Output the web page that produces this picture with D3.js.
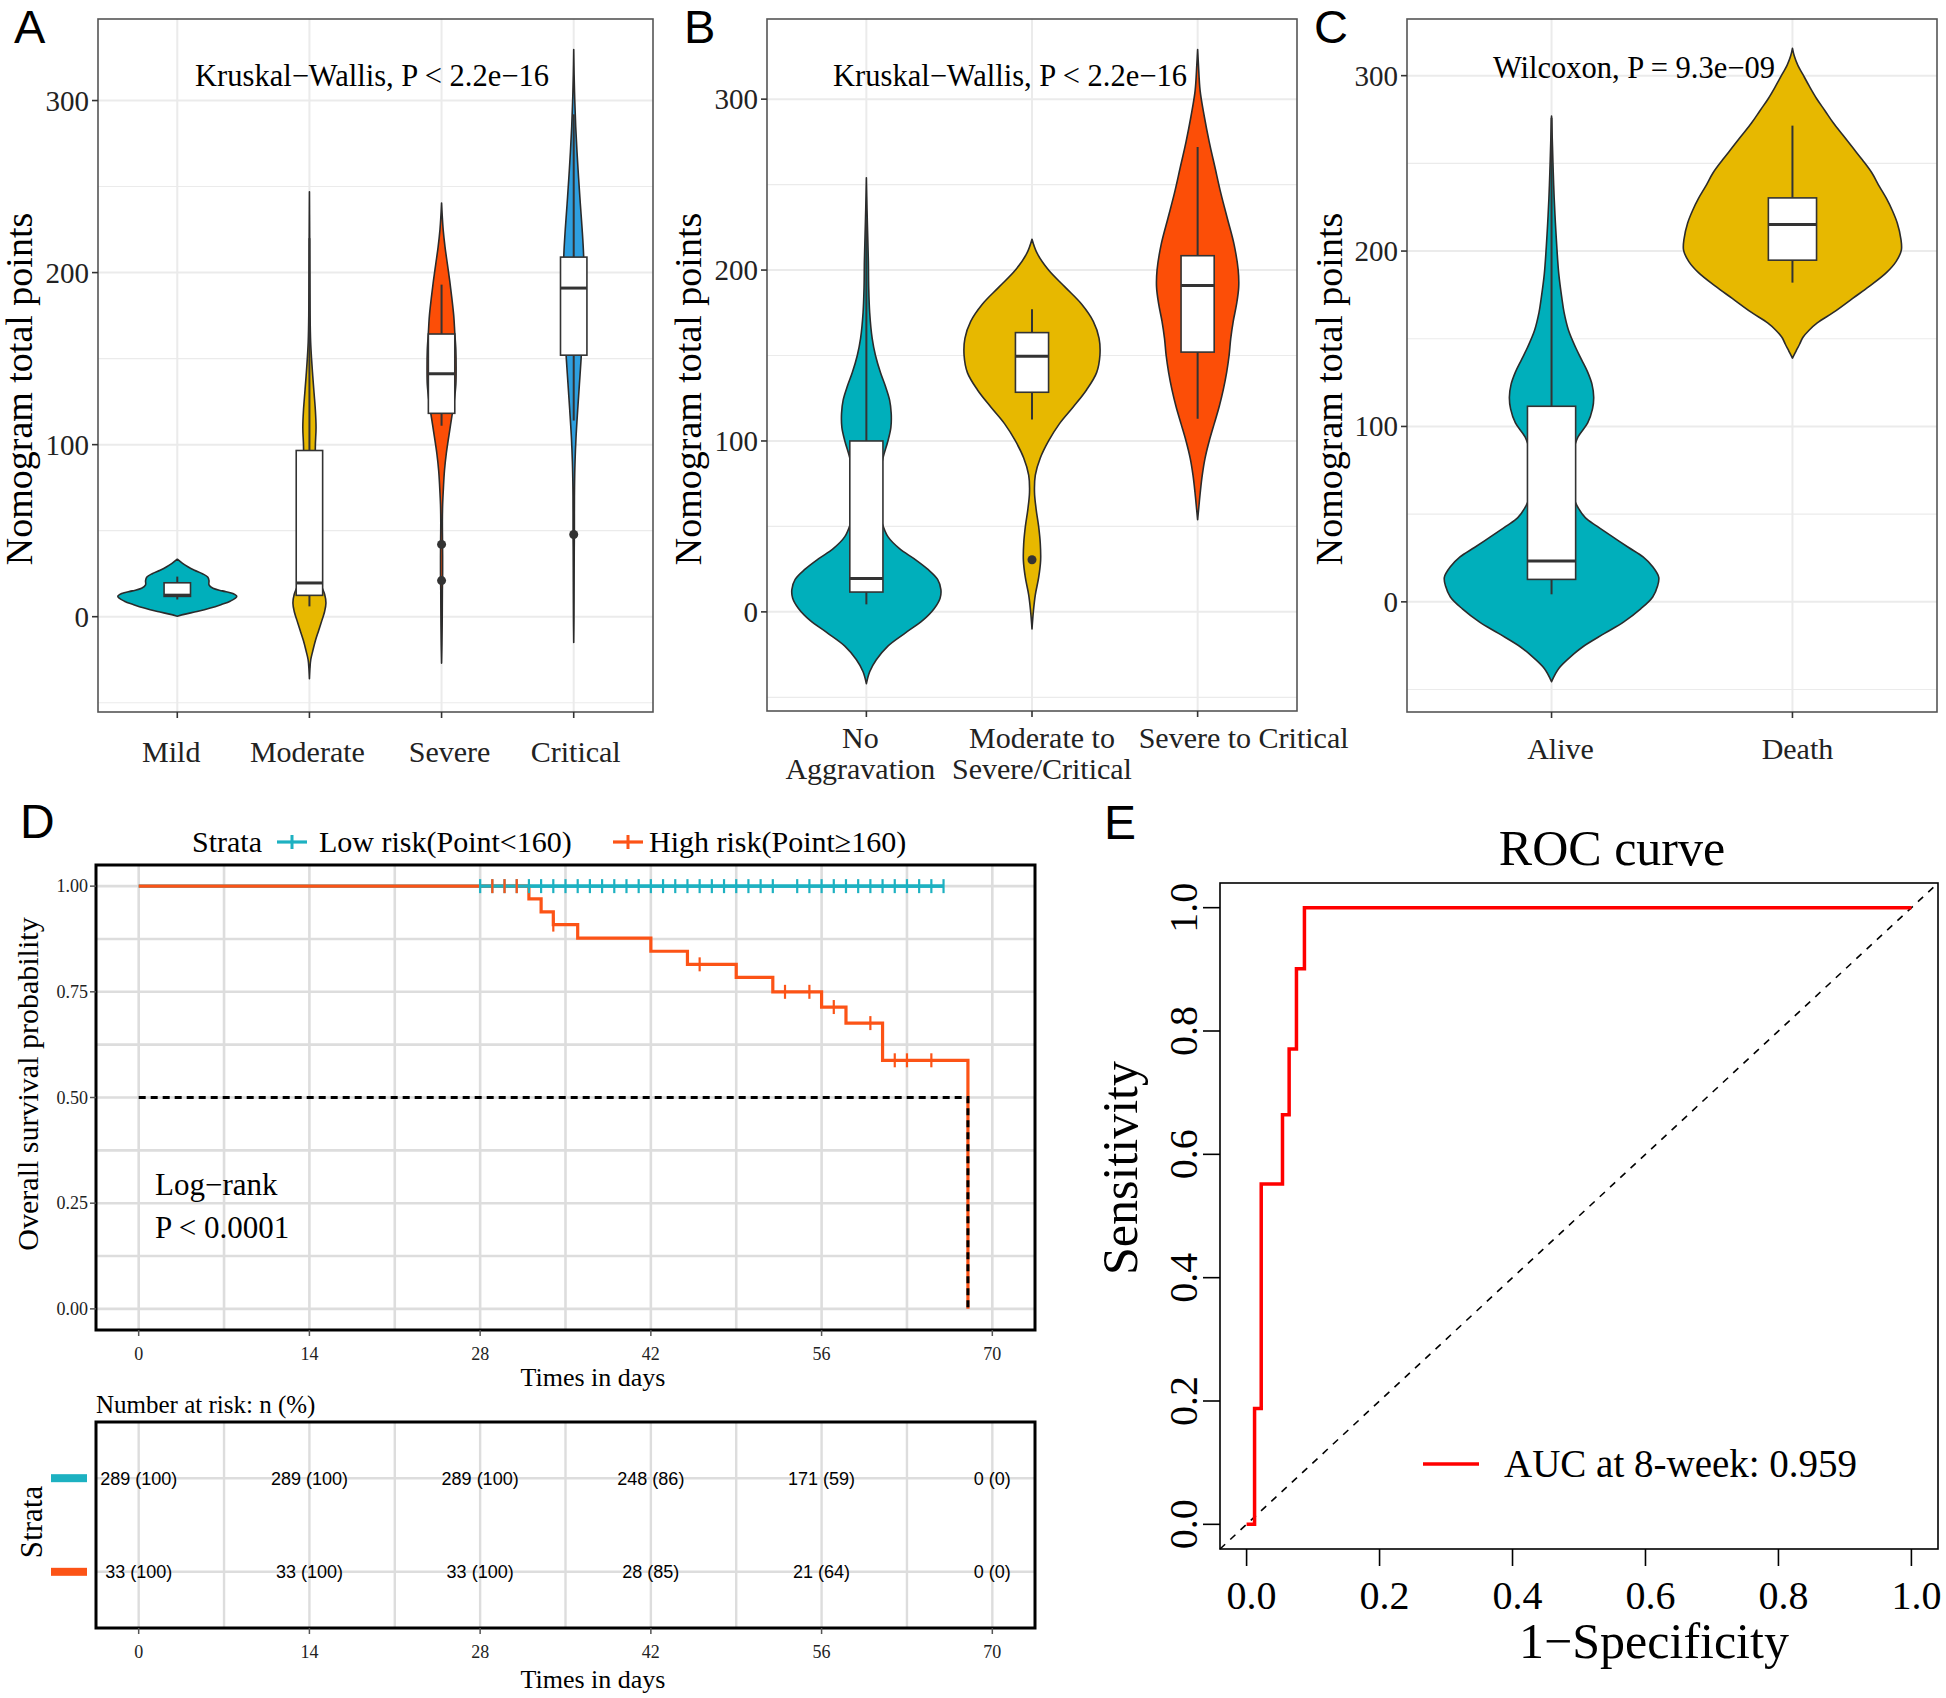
<!DOCTYPE html>
<html><head><meta charset="utf-8">
<script src="https://cdn.jsdelivr.net/npm/d3@7"></script>
<style>body{margin:0;background:#fff}</style>
</head><body>
<script>
// ---------------- DATA ----------------
// Panel A
const sevCategories = ["Mild","Moderate","Severe","Critical"];
const sevColors = ["#00AFBB","#E7B800","#FC4E07","#2E9FDF"];
// violin outline: [value, half-width in category units]
const mildViolin = [[0.3,0],[1.5,0.06],[3,0.15],[5,0.25],[7,0.33],[9,0.4],[11.8,0.45],[13.5,0.42],[15,0.34],[16.5,0.27],[18.5,0.24],[21,0.24],[23,0.23],[25,0.19],[27,0.13],[29,0.08],[31,0.04],[33.4,0]];
const moderateViolin = [[-36,0],[-30,0.004],[-25,0.01],[-20,0.025],[-14,0.045],[-8,0.07],[-2,0.095],[3,0.115],[8,0.125],[13,0.115],[18,0.09],[24,0.065],[32,0.045],[45,0.035],[60,0.032],[75,0.036],[88,0.042],[100,0.045],[110,0.05],[120,0.045],[130,0.035],[140,0.025],[150,0.016],[160,0.009],[175,0.005],[200,0.003],[225,0.0015],[247,0]];
const severeViolin = [[-27,0],[-15,0.003],[0,0.005],[15,0.006],[25,0.008],[35,0.008],[45,0.007],[55,0.006],[65,0.008],[75,0.014],[85,0.022],[95,0.036],[105,0.055],[115,0.075],[125,0.095],[135,0.108],[145,0.11],[155,0.108],[165,0.1],[175,0.092],[185,0.078],[195,0.062],[205,0.044],[215,0.026],[225,0.012],[233,0.005],[240.4,0]];
const criticalViolin = [[-15,0],[0,0.002],[20,0.003],[40,0.004],[48,0.005],[60,0.005],[75,0.006],[90,0.01],[105,0.018],[120,0.03],[135,0.043],[150,0.056],[165,0.066],[180,0.074],[195,0.078],[210,0.075],[225,0.064],[240,0.05],[255,0.037],[270,0.025],[285,0.015],[300,0.008],[315,0.003],[329.6,0]];
// boxes: [whiskerLow, q1, median, q3, whiskerHigh]
const sevBoxes = [[10,11.8,12.5,19.7,23.3],[6,12.4,19.6,96.6,220],[111,118.2,141.2,164.3,193],[114,152,191,209,292]];
const sevOutliers = [[],[],[42,21],[47.8]];

// Panel B
const aggCategories = ["No Aggravation","Moderate to Severe/Critical","Severe to Critical"];
const aggLabelLines = [["No","Aggravation"],["Moderate to","Severe/Critical"],["Severe to Critical"]];
const aggColors = ["#00AFBB","#E7B800","#FC4E07"];
const noAggViolin = [[-42,0],[-35,0.02],[-28,0.06],[-20,0.13],[-12,0.24],[-5,0.34],[2,0.41],[8,0.445],[13,0.45],[19,0.43],[25,0.37],[31,0.29],[37,0.2],[44,0.13],[52,0.095],[60,0.075],[70,0.07],[80,0.08],[90,0.1],[100,0.13],[108,0.148],[116,0.15],[124,0.14],[132,0.115],[140,0.085],[150,0.055],[160,0.035],[175,0.02],[190,0.014],[205,0.012],[220,0.008],[235,0.004],[254,0]];
const modSevViolin = [[-10,0],[0,0.008],[10,0.02],[20,0.04],[30,0.052],[40,0.05],[50,0.04],[60,0.025],[70,0.015],[80,0.02],[90,0.05],[100,0.1],[110,0.165],[120,0.25],[130,0.33],[140,0.39],[150,0.41],[160,0.405],[170,0.37],[180,0.3],[190,0.2],[200,0.1],[210,0.03],[218,0]];
const sevCritViolin = [[54,0],[60,0.006],[70,0.016],[80,0.028],[90,0.045],[100,0.07],[110,0.1],[120,0.13],[130,0.155],[140,0.175],[150,0.19],[160,0.2],[170,0.215],[180,0.235],[190,0.248],[200,0.245],[215,0.22],[230,0.18],[245,0.14],[260,0.105],[275,0.07],[290,0.04],[305,0.015],[320,0.005],[329,0]];
const aggBoxes = [[4.4,11.6,19.6,100,230],[112.6,128.5,149.6,163.4,177],[113,152,191,208.4,272]];
const aggOutliers = [[],[30.5],[]];

// Panel C
const outcomeCategories = ["Alive","Death"];
const outcomeColors = ["#00AFBB","#E7B800"];
const aliveViolin = [[-45.5,0],[-38,0.03],[-30,0.09],[-25.6,0.13],[-18,0.22],[-11.4,0.3],[-4,0.37],[2.8,0.42],[9,0.44],[14,0.445],[20,0.42],[25.6,0.38],[31,0.32],[37,0.254],[43,0.19],[48,0.14],[55,0.105],[62,0.085],[70,0.078],[78,0.08],[86,0.09],[94,0.11],[102,0.15],[110,0.17],[116.6,0.175],[124,0.168],[131,0.15],[138,0.125],[145,0.1],[155,0.07],[165,0.052],[173,0.043],[187,0.03],[202,0.022],[216,0.016],[230,0.011],[245,0.007],[259,0.004],[277,0]];
const deathViolin = [[139,0],[143,0.015],[147,0.03],[150.7,0.043],[155,0.07],[159,0.103],[165,0.17],[173,0.25],[180,0.32],[187.7,0.39],[194,0.43],[200.5,0.452],[207,0.45],[216,0.435],[223,0.415],[230,0.39],[237,0.36],[244.5,0.33],[252,0.29],[259,0.25],[266,0.21],[273,0.17],[280,0.135],[287,0.1],[294,0.07],[301,0.042],[306,0.022],[311,0.008],[315.6,0]];
const outcomeBoxes = [[4.3,12.8,23.3,111.5,276],[182,194.8,215.2,230.3,271.5]];
const outcomeOutliers = [[],[]];

const violinYTicks = [0,100,200,300];
const violinMinorTicks = [-50,50,150,250];

// Panel D (Kaplan-Meier)
const kmStrata = ["Low risk(Point<160)","High risk(Point\u2265160)"];
const kmColors = ["#1DB1C1","#FC5316"];
const lowRiskTimes = [0,66];
const lowRiskSurv = [1,1];
const highRiskTimes = [0,32,33,34,36,42,45,49,52,56,58,61,68];
const highRiskSurv = [1,0.970,0.939,0.909,0.877,0.846,0.815,0.784,0.750,0.714,0.676,0.588,0];
const lowRiskCensor = [28,29,30,31,32,33,34,35,36,37,38,39,40,41,42,43,44,45,46,47,48,49,50,51,52,54,55,56,57,58,59,60,61,62,63,64,65,66];
const highRiskCensor = [29,30,31,34,46,53,55,57,60,62,63,65];
const medianSurvival = 68;
const kmTimeTicks = [0,14,28,42,56,70];
const kmSurvTicks = [0,0.25,0.5,0.75,1];
const riskTimes = [0,14,28,42,56,70];
const lowRiskN = [289,289,289,248,171,0];
const lowRiskPct = [100,100,100,86,59,0];
const highRiskN = [33,33,33,28,21,0];
const highRiskPct = [100,100,100,85,64,0];

// Panel E (ROC)
const rocFPR = [0,0.012,0.022,0.054,0.064,0.075,0.087,1.0];
const rocTPR = [0,0.188,0.552,0.664,0.771,0.901,1.0,1.0];
const rocTicks = [0,0.2,0.4,0.6,0.8,1.0];
const aucLabel = "AUC at 8-week: 0.959";

// ---------------- DRAW ----------------
const SERIF = "'Liberation Serif','Times New Roman',serif";
const SANS = "'Liberation Sans',Arial,sans-serif";
const svg = d3.select("body").append("svg").attr("width",1946).attr("height",1698)
  .style("font-family", SERIF);

function text(g, x, y, s, size, opt={}) {
  const t = g.append("text").attr("x",x).attr("y",y).text(s)
    .attr("font-size",size).attr("fill",opt.fill||"#000")
    .attr("text-anchor",opt.anchor||"start")
    .attr("font-family",opt.family||SERIF);
  if (opt.rotate) t.attr("transform",`rotate(${opt.rotate},${x},${y})`);
  return t;
}

function violinPanel(p) {
  const g = svg.append("g");
  const x = d3.scalePoint().domain(p.cats).range([p.x0,p.x1]).padding(0.6);
  const y = d3.scaleLinear().domain(p.domain).range([p.y1,p.y0]);
  const unit = x.step();
  // grid
  violinMinorTicks.forEach(v => g.append("line").attr("x1",p.x0).attr("x2",p.x1)
    .attr("y1",y(v)).attr("y2",y(v)).attr("stroke","#ebebeb").attr("stroke-width",1.1));
  violinYTicks.forEach(v => g.append("line").attr("x1",p.x0).attr("x2",p.x1)
    .attr("y1",y(v)).attr("y2",y(v)).attr("stroke","#ebebeb").attr("stroke-width",2));
  p.cats.forEach(c => g.append("line").attr("x1",x(c)).attr("x2",x(c))
    .attr("y1",p.y0).attr("y2",p.y1).attr("stroke","#ebebeb").attr("stroke-width",2));
  // violins
  p.violins.forEach((v,i) => {
    const cx = x(p.cats[i]);
    const area = d3.area().curve(d3.curveCatmullRom.alpha(0.5))
      .y(d => y(d[0])).x0(d => cx - d[1]*unit).x1(d => cx + d[1]*unit);
    g.append("path").attr("d",area(v)).attr("fill",p.colors[i])
      .attr("stroke","#2b2b2b").attr("stroke-width",1.6).attr("stroke-linejoin","round");
  });
  // boxes
  p.boxes.forEach((b,i) => {
    const cx = x(p.cats[i]); const hw = 0.1*unit;
    g.append("line").attr("x1",cx).attr("x2",cx).attr("y1",y(b[0])).attr("y2",y(b[1]))
      .attr("stroke","#333").attr("stroke-width",2);
    g.append("line").attr("x1",cx).attr("x2",cx).attr("y1",y(b[3])).attr("y2",y(b[4]))
      .attr("stroke","#333").attr("stroke-width",2);
    g.append("rect").attr("x",cx-hw).attr("width",2*hw).attr("y",y(b[3])).attr("height",y(b[1])-y(b[3]))
      .attr("fill","#fff").attr("stroke","#333").attr("stroke-width",1.6);
    g.append("line").attr("x1",cx-hw).attr("x2",cx+hw).attr("y1",y(b[2])).attr("y2",y(b[2]))
      .attr("stroke","#333").attr("stroke-width",3);
    p.outliers[i].forEach(o => g.append("circle").attr("cx",cx).attr("cy",y(o)).attr("r",4.5).attr("fill","#333"));
  });
  // border
  g.append("rect").attr("x",p.x0).attr("y",p.y0).attr("width",p.x1-p.x0).attr("height",p.y1-p.y0)
    .attr("fill","none").attr("stroke","#555").attr("stroke-width",1.6);
  // y axis
  violinYTicks.forEach(v => {
    g.append("line").attr("x1",p.x0-6).attr("x2",p.x0).attr("y1",y(v)).attr("y2",y(v)).attr("stroke","#333").attr("stroke-width",1.6);
    text(g, p.x0-9, y(v)+10, String(v), 29, {anchor:"end", fill:"#222"});
  });
  // x axis
  p.cats.forEach((c,i) => {
    g.append("line").attr("x1",x(c)).attr("x2",x(c)).attr("y1",p.y1).attr("y2",p.y1+6).attr("stroke","#333").attr("stroke-width",1.6);
    p.labels[i].forEach((ln,j) => text(g, x(c)+p.labelDx[i], p.labelY + j*31, ln, 30, {anchor:"middle", fill:"#222"}));
  });
  // titles
  text(g, p.titleX, 389, "Nomogram total points", 38, {anchor:"middle", rotate:-90});
  text(g, p.annX, p.annY, p.annotation, 30.5, {anchor:"middle"});
  text(g, p.tagX, 43, p.tag, 47, {family:SANS});
}

violinPanel({x0:98,x1:653,y0:19,y1:712,domain:[-55.4,347.4],cats:sevCategories,
  labels:sevCategories.map(d=>[d]),labelDx:[-6,-2,8,2],labelY:762,colors:sevColors,
  violins:[mildViolin,moderateViolin,severeViolin,criticalViolin],boxes:sevBoxes,outliers:sevOutliers,
  annotation:"Kruskal\u2212Wallis, P < 2.2e\u221216",annX:372,annY:86,titleX:32,tag:"A",tagX:14});
violinPanel({x0:767,x1:1297,y0:19,y1:711,domain:[-58,346.9],cats:aggCategories,
  labels:aggLabelLines,labelDx:[-6,10,46],labelY:748,colors:aggColors,
  violins:[noAggViolin,modSevViolin,sevCritViolin],boxes:aggBoxes,outliers:aggOutliers,
  annotation:"Kruskal\u2212Wallis, P < 2.2e\u221216",annX:1010,annY:86,titleX:701,tag:"B",tagX:684});
violinPanel({x0:1407,x1:1937,y0:19,y1:712,domain:[-62.8,332.3],cats:outcomeCategories,
  labels:outcomeCategories.map(d=>[d]),labelDx:[9,5],labelY:759,colors:outcomeColors,
  violins:[aliveViolin,deathViolin],boxes:outcomeBoxes,outliers:outcomeOutliers,
  annotation:"Wilcoxon, P = 9.3e\u221209",annX:1634,annY:78,titleX:1342,tag:"C",tagX:1314});

// ---------- Panel D ----------
(function(){
  const g = svg.append("g");
  const x = d3.scaleLinear().domain([-3.5,73.5]).range([96,1035]);
  const y = d3.scaleLinear().domain([-0.05,1.05]).range([1330,865]);
  const grid = "#dddddd";
  for (let t=0; t<=70; t+=7) g.append("line").attr("x1",x(t)).attr("x2",x(t)).attr("y1",865).attr("y2",1330).attr("stroke",grid).attr("stroke-width",2.6);
  for (let s=0; s<=1.0001; s+=0.125) g.append("line").attr("x1",96).attr("x2",1035).attr("y1",y(s)).attr("y2",y(s)).attr("stroke",grid).attr("stroke-width",2.6);

  const line = d3.line().curve(d3.curveStepAfter).x(d=>x(d[0])).y(d=>y(d[1]));
  const lowPts = lowRiskTimes.map((t,i)=>[t,lowRiskSurv[i]]);
  const highPts = highRiskTimes.map((t,i)=>[t,highRiskSurv[i]]);
  g.append("path").attr("d",line(lowPts)).attr("fill","none").attr("stroke",kmColors[0]).attr("stroke-width",3.2);
  g.append("path").attr("d",line(highPts)).attr("fill","none").attr("stroke",kmColors[1]).attr("stroke-width",3.2);
  // teal over orange from first censoring onward
  const c0 = d3.min(lowRiskCensor), c1 = d3.max(lowRiskCensor);
  g.append("path").attr("d",line([[c0,1],[c1,1]])).attr("fill","none").attr("stroke",kmColors[0]).attr("stroke-width",3.2);
  const survAt = (times,surv,t) => surv[d3.bisectRight(times,t)-1];
  lowRiskCensor.forEach(t => g.append("line").attr("x1",x(t)).attr("x2",x(t))
    .attr("y1",y(survAt(lowRiskTimes,lowRiskSurv,t))-7).attr("y2",y(survAt(lowRiskTimes,lowRiskSurv,t))+7)
    .attr("stroke",kmColors[0]).attr("stroke-width",2.2));
  highRiskCensor.forEach(t => g.append("line").attr("x1",x(t)).attr("x2",x(t))
    .attr("y1",y(survAt(highRiskTimes,highRiskSurv,t))-7).attr("y2",y(survAt(highRiskTimes,highRiskSurv,t))+7)
    .attr("stroke",kmColors[1]).attr("stroke-width",2.2));
  // median line
  g.append("path").attr("d",d3.line().x(d=>x(d[0])).y(d=>y(d[1]))([[0,0.5],[medianSurvival,0.5],[medianSurvival,0]]))
    .attr("fill","none").attr("stroke","#000").attr("stroke-width",3).attr("stroke-dasharray","7,5");
  g.append("rect").attr("x",96).attr("y",865).attr("width",939).attr("height",465)
    .attr("fill","none").attr("stroke","#000").attr("stroke-width",3);
  // axes
  kmSurvTicks.forEach(s => {
    g.append("line").attr("x1",90).attr("x2",96).attr("y1",y(s)).attr("y2",y(s)).attr("stroke","#555").attr("stroke-width",1.5);
    text(g, 88, y(s)+6, s.toFixed(2), 18, {anchor:"end", fill:"#222"});
  });
  kmTimeTicks.forEach(t => {
    g.append("line").attr("x1",x(t)).attr("x2",x(t)).attr("y1",1330).attr("y2",1336).attr("stroke","#555").attr("stroke-width",1.5);
    text(g, x(t), 1360, String(t), 18, {anchor:"middle", fill:"#222"});
  });
  text(g, 593, 1386, "Times in days", 26, {anchor:"middle"});
  text(g, 38, 1084, "Overall survival probability", 30, {anchor:"middle", rotate:-90});
  text(g, 155, 1195, "Log\u2212rank", 31);
  text(g, 155, 1238, "P < 0.0001", 31);
  // legend
  text(g, 192, 852, "Strata", 30);
  const leg = [[277,319],[613,649]];
  kmStrata.forEach((s,i) => {
    const [lx,tx] = leg[i];
    g.append("line").attr("x1",lx).attr("x2",lx+30).attr("y1",842).attr("y2",842).attr("stroke",kmColors[i]).attr("stroke-width",3.2);
    g.append("line").attr("x1",lx+15).attr("x2",lx+15).attr("y1",835).attr("y2",849).attr("stroke",kmColors[i]).attr("stroke-width",3);
    text(g, tx, 852, s, 30);
  });
  text(g, 20, 838, "D", 48, {family:SANS});

  // risk table
  const ry = d3.scalePoint().domain(["high","low"]).range([1628,1422]).padding(0.6);
  for (let t=0; t<=70; t+=7) g.append("line").attr("x1",x(t)).attr("x2",x(t)).attr("y1",1422).attr("y2",1628).attr("stroke",grid).attr("stroke-width",2.4);
  ["low","high"].forEach(r => g.append("line").attr("x1",96).attr("x2",1035).attr("y1",ry(r)).attr("y2",ry(r)).attr("stroke",grid).attr("stroke-width",2.4));
  const rows = [["low",lowRiskN,lowRiskPct,kmColors[0]],["high",highRiskN,highRiskPct,kmColors[1]]];
  rows.forEach(([r,n,pc,col]) => {
    riskTimes.forEach((t,i) => text(g, x(t), ry(r)+6.5, `${n[i]} (${pc[i]})`, 18, {anchor:"middle", family:SANS}));
    g.append("rect").attr("x",51).attr("y",ry(r)-4).attr("width",36).attr("height",8).attr("fill",col);
  });
  g.append("rect").attr("x",96).attr("y",1422).attr("width",939).attr("height",206)
    .attr("fill","none").attr("stroke","#000").attr("stroke-width",3);
  riskTimes.forEach(t => {
    g.append("line").attr("x1",x(t)).attr("x2",x(t)).attr("y1",1628).attr("y2",1634).attr("stroke","#555").attr("stroke-width",1.5);
    text(g, x(t), 1658, String(t), 18, {anchor:"middle", fill:"#222"});
  });
  text(g, 96, 1413, "Number at risk: n (%)", 25);
  text(g, 593, 1688, "Times in days", 26, {anchor:"middle"});
  text(g, 42, 1522, "Strata", 31, {anchor:"middle", rotate:-90});
})();

// ---------- Panel E ----------
(function(){
  const g = svg.append("g");
  const x = d3.scaleLinear().domain([-0.04,1.04]).range([1220,1938]);
  const y = d3.scaleLinear().domain([-0.04,1.04]).range([1549,883]);
  g.append("line").attr("x1",x(-0.04)).attr("y1",y(-0.04)).attr("x2",x(1.04)).attr("y2",y(1.04))
    .attr("stroke","#000").attr("stroke-width",1.6).attr("stroke-dasharray","7,7");
  const pts = rocFPR.map((f,i)=>[f,rocTPR[i]]);
  g.append("path").attr("d",d3.line().curve(d3.curveStepAfter).x(d=>x(d[0])).y(d=>y(d[1]))(pts))
    .attr("fill","none").attr("stroke","#FF0000").attr("stroke-width",3.5);
  g.append("rect").attr("x",1220).attr("y",883).attr("width",718).attr("height",666)
    .attr("fill","none").attr("stroke","#000").attr("stroke-width",1.6);
  rocTicks.forEach(v => {
    g.append("line").attr("x1",x(v)).attr("x2",x(v)).attr("y1",1549).attr("y2",1566).attr("stroke","#000").attr("stroke-width",1.6);
    text(g, x(v)+5, 1609, v.toFixed(1), 40, {anchor:"middle"});
    g.append("line").attr("x1",1203).attr("x2",1220).attr("y1",y(v)).attr("y2",y(v)).attr("stroke","#000").attr("stroke-width",1.6);
    text(g, 1197, y(v), v.toFixed(1), 40, {anchor:"middle", rotate:-90});
  });
  text(g, 1612, 865, "ROC curve", 50, {anchor:"middle"});
  text(g, 1654, 1658, "1\u2212Specificity", 50, {anchor:"middle"});
  text(g, 1137, 1168, "Sensitivity", 50, {anchor:"middle", rotate:-90});
  g.append("line").attr("x1",1423).attr("x2",1479).attr("y1",1464).attr("y2",1464).attr("stroke","#FF0000").attr("stroke-width",3.5);
  text(g, 1504, 1477, aucLabel, 39);
  text(g, 1104, 839, "E", 48, {family:SANS});
})();
</script>
</body></html>
